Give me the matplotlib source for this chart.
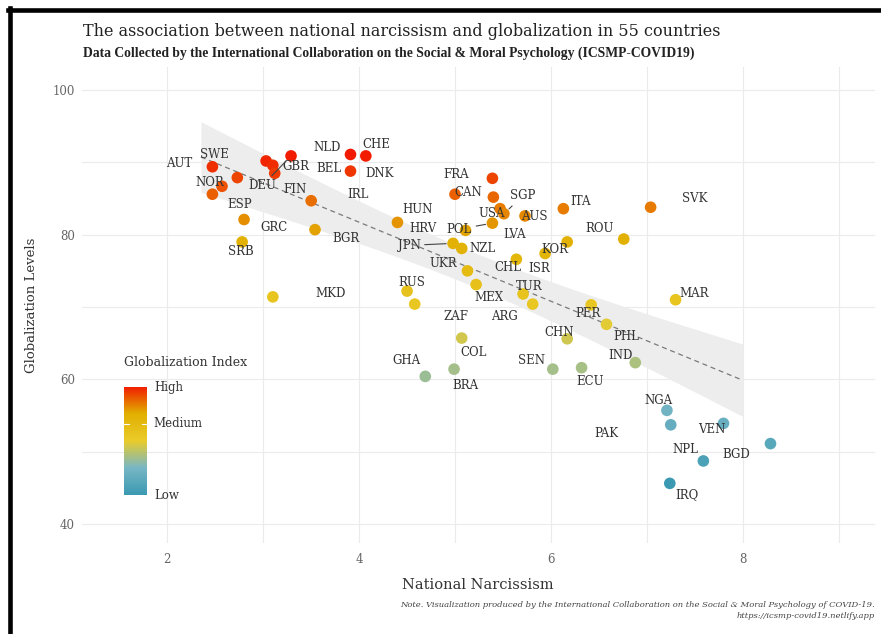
import numpy as np
import matplotlib.pyplot as plt
from matplotlib.colors import LinearSegmentedColormap, Normalize
from matplotlib.lines import Line2D

countries = ["AUT", "NOR", "ESP", "SWE", "BEL", "GBR", "IRL", "DEU", "NLD", "CHE",
             "DNK", "FIN", "GRC", "BGR", "SRB", "MKD", "HUN", "FRA", "CAN", "USA",
             "LVA", "SGP", "AUS", "ITA", "POL", "HRV", "JPN", "NZL", "KOR", "ROU",
             "ISR", "CHL", "UKR", "MEX", "RUS", "ZAF", "TUR", "ARG", "PER", "PHL",
             "COL", "BRA", "GHA", "SEN", "ECU", "CHN", "IND", "MAR", "NGA", "PAK",
             "VEN", "BGD", "NPL", "IRQ", "SVK"]
narcissism = [2.47, 2.57, 2.47, 2.73, 3.03, 3.10, 3.12, 3.29, 3.91, 4.07,
              3.91, 3.50, 2.80, 3.54, 2.78, 3.10, 4.40, 5.39, 5.00, 5.40,
              5.47, 5.51, 5.73, 6.13, 5.39, 5.11, 4.98, 5.07, 6.17, 6.76,
              5.94, 5.64, 5.13, 5.22, 4.50, 4.58, 5.71, 5.81, 6.42, 6.58,
              5.07, 4.99, 4.69, 6.02, 6.32, 6.17, 6.88, 7.30, 7.21, 7.25,
              7.80, 8.29, 7.59, 7.24, 7.04]
globalization = [89.4, 86.7, 85.6, 87.9, 90.2, 89.6, 88.5, 90.9, 91.1, 90.9,
                 88.8, 84.7, 82.1, 80.7, 79.0, 71.4, 81.7, 87.8, 85.6, 85.2,
                 83.6, 82.9, 82.6, 83.6, 81.6, 80.6, 78.8, 78.1, 79.0, 79.4,
                 77.4, 76.6, 75.0, 73.1, 72.2, 70.4, 71.8, 70.4, 70.3, 67.6,
                 65.7, 61.4, 60.4, 61.4, 61.6, 65.6, 62.3, 71.0, 55.7, 53.7,
                 53.9, 51.1, 48.7, 45.6, 83.8]

# where each country code sits relative to its point (pixels, y up)
label_offsets = {
    "AUT": (-33, 3), "NOR": (-12, 4), "ESP": (27, -10), "SWE": (-23, 23),
    "BEL": (63, -8), "GBR": (23, -1), "IRL": (83, -21), "DEU": (-29, -30),
    "NLD": (-23, 7), "CHE": (10, 11), "DNK": (29, -2), "FIN": (-16, 11),
    "GRC": (30, -8), "BGR": (31, -9), "SRB": (-1, -10), "MKD": (58, 3),
    "HUN": (20, 13), "FRA": (-36, 4), "CAN": (13, 2), "USA": (-2, -16),
    "LVA": (15, -26), "SGP": (19, 18), "AUS": (9, -1), "ITA": (17, 7),
    "POL": (-33, -6), "HRV": (-43, 2), "JPN": (-44, -2), "NZL": (21, 0),
    "KOR": (-12, -8), "ROU": (-24, 11), "ISR": (-6, -15), "CHL": (-9, -8),
    "UKR": (-24, 7), "MEX": (13, -13), "RUS": (5, 9), "ZAF": (41, -12),
    "TUR": (6, 7), "ARG": (-28, -12), "PER": (-3, -9), "PHL": (20, -12),
    "COL": (12, -14), "BRA": (11, -16), "GHA": (-19, 16), "SEN": (-21, 9),
    "ECU": (9, -14), "CHN": (-8, 6), "IND": (-15, 7), "MAR": (19, 6),
    "NGA": (-8, 10), "PAK": (-64, -9), "VEN": (-12, -6), "BGD": (-34, -11),
    "NPL": (-18, 11), "IRQ": (17, -11), "SVK": (44, 9),
}
linked = ["DEU", "SGP", "POL", "JPN"]

title = "The association between national narcissism and globalization in 55 countries"
subtitle = ("Data Collected by the International Collaboration on the Social & Moral "
            "Psychology (ICSMP-COVID19)")
note = ("Note. Visualization produced by the International Collaboration on the "
        "Social & Moral Psychology of COVID-19.")
url = "https://icsmp-covid19.netlify.app"

zissou = ["#3B9AB2", "#78B7C5", "#EBCC2A", "#E1AF00", "#F21A00"]
cmap = LinearSegmentedColormap.from_list("zissou", zissou)

x = np.array(narcissism)
y = np.array(globalization)
norm = Normalize(y.min(), y.max())

W, H = 881, 634
fig = plt.figure(figsize=(W / 100, H / 100), dpi=100)


def fx(px):
    return px / W


def fy(py):
    return 1 - py / H


serif = "DejaVu Serif"

ax = fig.add_axes([fx(82), fy(543), fx(875) - fx(82), fy(67) - fy(543)])
ax.set_xlim(1.11, 9.38)
ax.set_ylim(37.35, 103.2)
ax.set_xticks([2, 4, 6, 8])
ax.set_xticks([3, 5, 7, 9], minor=True)
ax.set_yticks([40, 60, 80, 100])
ax.set_yticks([50, 70, 90], minor=True)
ax.grid(which="both", color="#EBEBEB", lw=0.8, zorder=0)
ax.set_axisbelow(True)
ax.tick_params(which="both", length=0, labelsize=8.5, labelcolor="#666666")
ax.tick_params(axis="x", pad=7)
ax.tick_params(axis="y", pad=5)
for lab in ax.get_xticklabels() + ax.get_yticklabels():
    lab.set_family(serif)
for s in ax.spines.values():
    s.set_visible(False)

# linear fit with its 95% confidence band
fit_lo, fit_hi = 2.35, 8.0
xs = np.linspace(fit_lo, fit_hi, 200)
slope, icept = np.polyfit(x, y, 1)
n = len(x)
resid = y - (icept + slope * x)
sd = np.sqrt((resid ** 2).sum() / (n - 2))
se = sd * np.sqrt(1 / n + (xs - x.mean()) ** 2 / ((x - x.mean()) ** 2).sum())
ys = icept + slope * xs
ax.fill_between(xs, ys - 2.006 * se, ys + 2.006 * se, color="#EDEDED", lw=0, zorder=1)
ax.plot(xs, ys, ls=(0, (4, 3)), color="#7A7A7A", lw=0.9, zorder=2)

ax.scatter(x, y, c=y, cmap=cmap, norm=norm, s=70, edgecolors="none", zorder=3)

for c, xi, yi in zip(countries, x, y):
    dx, dy = label_offsets[c]
    arrow = None
    if c in linked:
        arrow = dict(arrowstyle="-", color="#444444", lw=0.8, shrinkA=1, shrinkB=5)
    ax.annotate(c, (xi, yi), xytext=(dx, dy), textcoords="offset pixels",
                ha="center", va="center", fontsize=8.5, family=serif,
                color="#333333", arrowprops=arrow, zorder=4)

# colour legend
cax = fig.add_axes([fx(124), fy(495), fx(147) - fx(124), fy(387) - fy(495)])
cax.imshow(np.linspace(0, 1, 256)[:, None], aspect="auto", cmap=cmap,
           origin="lower", extent=[0, 1, y.min(), y.max()])
cax.set_xlim(0, 1)
cax.set_ylim(y.min(), y.max())
cax.axis("off")
med = y.mean()
cax.plot([0, 0.2], [med, med], color="white", lw=0.8)
cax.plot([0.8, 1], [med, med], color="white", lw=0.8)
for val, txt in [(y.max(), "High"), (med, "Medium"), (y.min(), "Low")]:
    cax.text(1.3, val, txt, va="center", ha="left", fontsize=8.5, family=serif,
             color="#333333", clip_on=False)
fig.text(fx(124), fy(362), "Globalization Index", fontsize=9, family=serif,
         color="#333333", va="center", ha="left")

fig.text(fx(83), fy(32), title, fontsize=11.5, family=serif, color="#222222",
         va="center", ha="left")
fig.text(fx(83), fy(53), subtitle, fontsize=9.8, family="Liberation Serif",
         weight="bold", color="#222222", va="center", ha="left")
fig.text(fx(32), fy(305), "Globalization Levels", rotation=90, fontsize=9.5,
         family=serif, color="#333333", va="center", ha="center")
fig.text(fx(478), fy(585), "National Narcissism", fontsize=10.5, family=serif,
         color="#333333", va="center", ha="center")
fig.text(fx(875), fy(605), note, fontsize=6.0, family=serif, style="italic",
         color="#444444", va="center", ha="right")
fig.text(fx(875), fy(616), url, fontsize=6.0, family=serif, style="italic",
         color="#444444", va="center", ha="right")

# black frame on the left and top edges
fig.add_artist(Line2D([fx(9.5), fx(9.5)], [fy(8), 0], color="black", lw=3.3))
fig.add_artist(Line2D([fx(8), 1], [fy(9.5), fy(9.5)], color="black", lw=3.3))

fig.savefig("out.png", dpi=100)
